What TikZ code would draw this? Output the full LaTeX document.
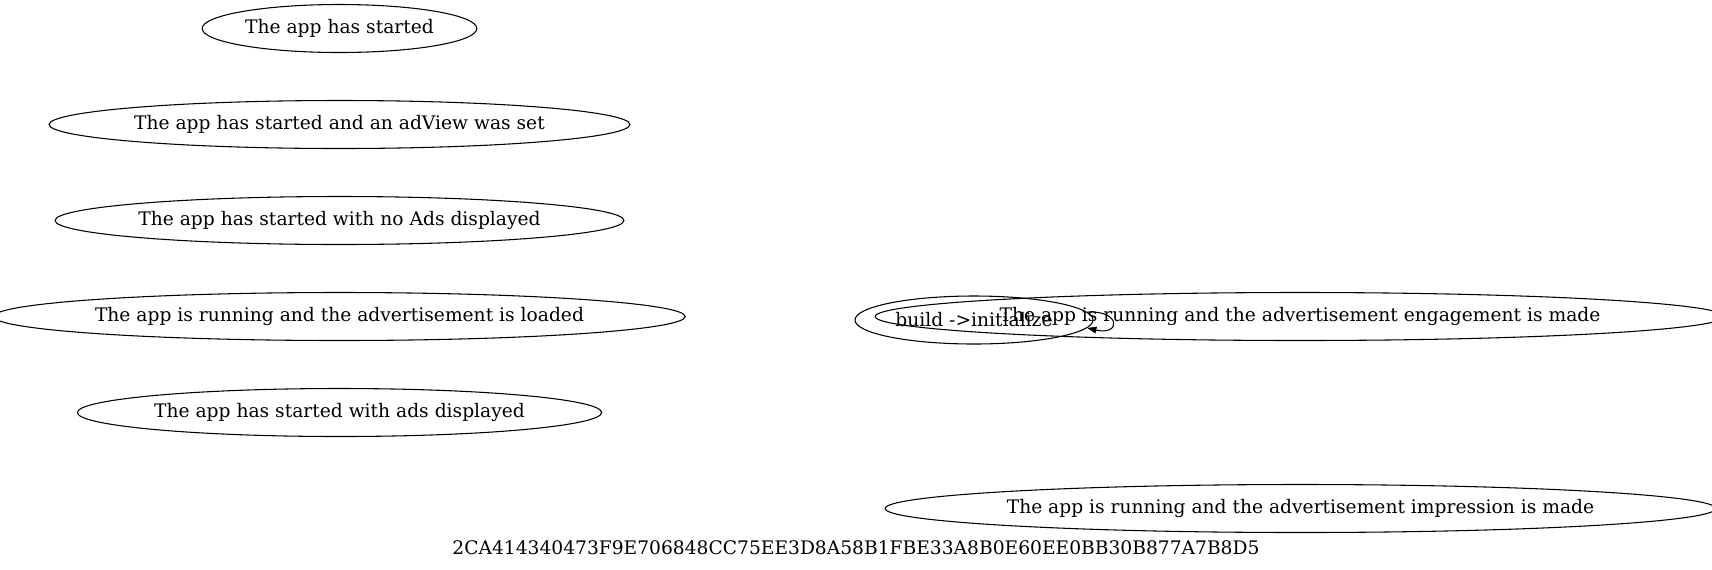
\documentclass[tikz,border=0pt]{standalone}
\usepackage{fontspec}
\setmainfont{DejaVu Serif}
\usepackage{tikz}
\usetikzlibrary{shapes.geometric, arrows.meta}
\tikzstyle{state} = [ellipse, draw=black, line width=0.8pt, minimum height=36pt, inner sep=0pt, font=\fontsize{14}{16}\selectfont]
\tikzstyle{caption} = [inner sep=0pt, anchor=base, font=\fontsize{14}{16}\selectfont]
\tikzstyle{loop arrow} = [line width=0.8pt, -{Triangle[length=7pt,width=5pt]}]

\begin{document}
\begin{tikzpicture}[x=0.75pt, y=-0.75pt]
\useasboundingbox (0,0) rectangle (1712,569);
\node [state, minimum width=206pt] (started) at (339.5,28.5) {The app has started};
\node [state, minimum width=424pt] (adview) at (339.5,124.5) {The app has started and an adView was set};
\node [state, minimum width=416pt] (noads) at (339.5,220.5) {The app has started with no Ads displayed};
\node [state, minimum width=501pt] (loaded) at (339.5,316.5) {The app is running and the advertisement is loaded};
\node [state, minimum width=386.5pt] (withads) at (339.5,412.5) {The app has started with ads displayed};
\node [state, minimum width=610pt] (engagement) at (1300,316.5) {The app is running and the advertisement engagement is made};
\node [state, minimum width=598pt] (impression) at (1300.5,508.5) {The app is running and the advertisement impression is made};
\node [state, minimum width=178.5pt] (build) at (974,320) {build ->initialize};
\draw [loop arrow] (build.4) .. controls (1121,310) and (1121,336) .. (build.-4);
\node [caption] (hash) at (856,554) {2CA414340473F9E706848CC75EE3D8A58B1FBE33A8B0E60EE0BB30B877A7B8D5};
\end{tikzpicture}
\end{document}
